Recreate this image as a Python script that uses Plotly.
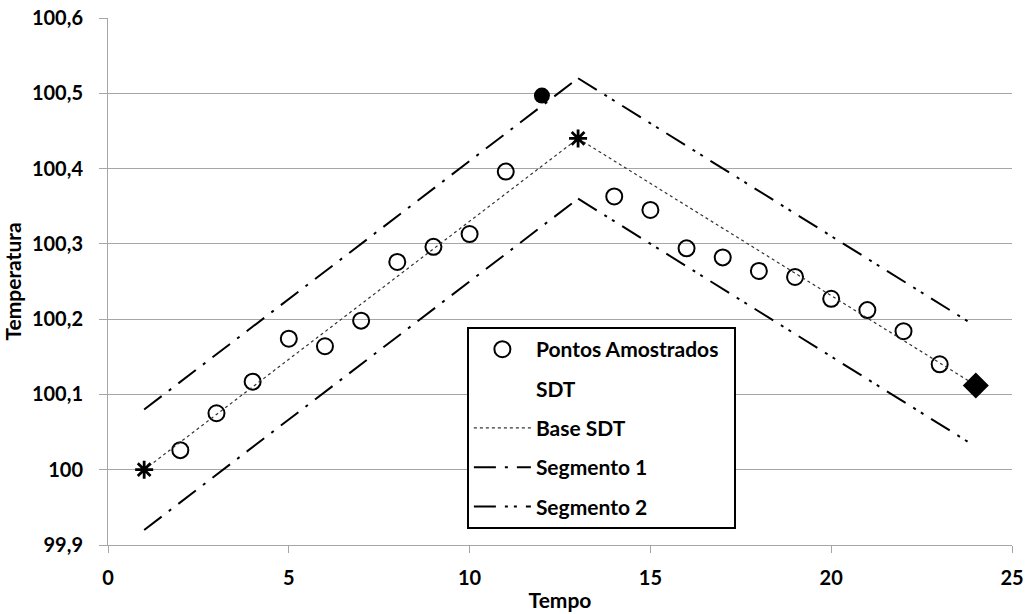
import plotly.graph_objects as go

# ---- data ----
tempo_amostras = [2, 3, 4, 5, 6, 7, 8, 9, 10, 11, 14, 15, 16, 17, 18, 19, 20, 21, 22, 23]
temp_amostras = [100.026, 100.075, 100.117, 100.174, 100.164, 100.198, 100.276, 100.296,
                 100.313, 100.396, 100.363, 100.345, 100.294, 100.282, 100.264, 100.256,
                 100.227, 100.212, 100.184, 100.140]

sdt_x = [1, 13]
sdt_y = [100.0, 100.44]

ponto_fora_x = [12]
ponto_fora_y = [100.497]

ponto_final_x = [24]
ponto_final_y = [100.112]

base_x = [1, 13, 24]
base_y = [100.0, 100.44, 100.112]

seg1_x = [1, 13, None, 1, 13]
seg1_y = [100.08, 100.52, None, 99.92, 100.36]

seg2_x = [13, 23.85, None, 13, 23.85]
seg2_y = [100.52, 100.195, None, 100.36, 100.035]

x_ticks = [0, 5, 10, 15, 20, 25]
y_ticks = [99.9, 100.0, 100.1, 100.2, 100.3, 100.4, 100.5, 100.6]

FONT = "Lato"
fig = go.Figure()

fig.add_trace(go.Scatter(
    x=tempo_amostras, y=temp_amostras, mode="markers", name="Pontos Amostrados\u00a0\u00a0",
    legendgroup="a",
    marker=dict(symbol="circle-open", size=16, color="black", line=dict(width=2, color="black"))))

fig.add_trace(go.Scatter(
    x=[None], y=[None], mode="lines", name="SDT", legendgroup="b",
    line=dict(width=0, color="rgba(0,0,0,0)")))

fig.add_trace(go.Scatter(
    x=base_x, y=base_y, mode="lines", name="Base SDT", legendgroup="c",
    line=dict(color="#333333", width=1.2, dash="dot")))

fig.add_trace(go.Scatter(
    x=seg1_x, y=seg1_y, mode="lines", name="Segmento 1", legendgroup="d",
    line=dict(color="black", width=2, dash="22px,9px,3px,9px")))

fig.add_trace(go.Scatter(
    x=seg2_x, y=seg2_y, mode="lines", name="Segmento 2", legendgroup="e",
    line=dict(color="black", width=2, dash="22px,9px,3px,6px,3px,9px")))

fig.add_trace(go.Scatter(
    x=sdt_x, y=sdt_y, mode="markers", showlegend=False,
    marker=dict(symbol="asterisk-open", size=15, color="black", line=dict(width=2.8, color="black"))))

fig.add_trace(go.Scatter(
    x=ponto_fora_x, y=ponto_fora_y, mode="markers", showlegend=False,
    marker=dict(symbol="circle", size=16, color="black")))

fig.add_trace(go.Scatter(
    x=ponto_final_x, y=ponto_final_y, mode="markers", showlegend=False,
    marker=dict(symbol="diamond", size=20, color="black")))

fig.update_layout(
    width=1027, height=614,
    margin=dict(l=108, r=15, t=18, b=69),
    paper_bgcolor="white", plot_bgcolor="white",
    separators=",.",
    font=dict(family=FONT, color="black"),
    showlegend=True,
    legend=dict(
        x=0.397, y=0.4135, xanchor="left", yanchor="top",
        bordercolor="black", borderwidth=2, bgcolor="white",
        font=dict(family=FONT, size=21, color="black", weight="bold"),
        tracegroupgap=9, itemwidth=57,
    ),
)

fig.update_xaxes(
    range=[0, 25], tickvals=x_ticks, showgrid=False, zeroline=False,
    showline=True, linecolor="#a6a6a6", linewidth=1, automargin=False,
    ticks="outside", ticklen=7, tickcolor="#a6a6a6",
    ticklabelstandoff=8,
    tickfont=dict(family=FONT, size=20, weight="bold"),
    title=dict(text="Tempo", font=dict(family=FONT, size=21, weight="bold"), standoff=5),
)
fig.update_yaxes(
    range=[99.9, 100.6], tickvals=y_ticks, showgrid=True, gridcolor="#a6a6a6", gridwidth=1,
    zeroline=False, showline=True, linecolor="#a6a6a6", linewidth=1, automargin=False,
    ticks="outside", ticklen=8, tickcolor="#a6a6a6",
    ticklabelstandoff=12,
    tickfont=dict(family=FONT, size=20, weight="bold"),
    title=dict(text="Temperatura", font=dict(family=FONT, size=21, weight="bold"), standoff=4),
)

fig.write_html("out.html")
